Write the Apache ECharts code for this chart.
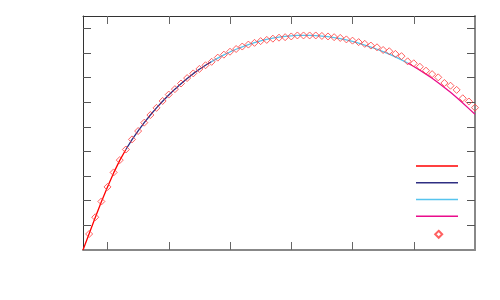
<!DOCTYPE html>
<html>
<head>
<meta charset="utf-8">
<script src="https://cdn.jsdelivr.net/npm/echarts@6/dist/echarts.min.js"></script>
<style>html,body{margin:0;padding:0;background:#fff;}#chart{width:500px;height:300px;}</style>
</head>
<body>
<div id="chart"></div>
<script>
// x positions of the fitted curve samples
var curveX = [0,0.1,0.2,0.3,0.4,0.5,0.6,0.7,0.8,0.9,1.0,1.1,1.2,1.3,1.4,1.5,1.6,1.7,1.8,1.9,2.0,
  2.1,2.2,2.3,2.4,2.5,2.6,2.7,2.8,2.9,3.0,3.1,3.2,3.3,3.4,3.5,3.6,3.7,3.8,3.9,4.0,
  4.1,4.2,4.3,4.4,4.5,4.6,4.7,4.8,4.9,5.0,5.1,5.2,5.3,5.4,5.5,5.6,5.7,5.8,5.9,6.0,6.1,6.2,6.3,6.4];
var curveY = [0,0.66,1.32,1.96,2.56,3.13,3.64,4.08,4.48,4.84,5.17,5.48,5.77,6.04,6.29,6.53,6.75,6.96,7.16,7.34,7.50,
  7.65,7.79,7.92,8.04,8.15,8.25,8.34,8.42,8.49,8.55,8.60,8.64,8.67,8.69,8.71,8.71,8.71,8.70,8.68,8.66,
  8.62,8.58,8.53,8.47,8.40,8.32,8.24,8.15,8.05,7.95,7.84,7.72,7.59,7.45,7.30,7.14,6.97,6.79,6.60,6.40,6.19,5.97,5.74,5.51];
// x ranges covered by each coloured curve piece
var pieceNames = ['fit 1', 'fit 2', 'fit 3', 'fit 4'];
var pieceRanges = [[0, 0.7], [0.7, 2.1], [2.1, 5.3], [5.3, 6.4]];
// measured points
var pointX = [0.1,0.2,0.3,0.4,0.5,0.6,0.7,0.8,0.9,1.0,1.1,1.2,1.3,1.4,1.5,1.6,1.7,1.8,1.9,2.0,
  2.1,2.2,2.3,2.4,2.5,2.6,2.7,2.8,2.9,3.0,3.1,3.2,3.3,3.4,3.5,3.6,3.7,3.8,3.9,4.0,
  4.1,4.2,4.3,4.4,4.5,4.6,4.7,4.8,4.9,5.0,5.1,5.2,5.3,5.4,5.5,5.6,5.7,5.8,5.9,6.0,6.1,6.2,6.3,6.4];
var pointY = [0.65,1.33,1.97,2.56,3.15,3.65,4.08,4.49,4.83,5.17,
  5.48,5.77,6.05,6.31,6.53,6.76,6.98,7.17,7.35,7.50,
  7.64,7.81,7.93,8.05,8.16,8.26,8.34,8.41,8.48,8.53,
  8.58,8.62,8.64,8.67,8.71,8.71,8.71,8.71,8.69,8.67,
  8.64,8.61,8.55,8.50,8.44,8.37,8.30,8.23,8.12,8.07,
  7.96,7.87,7.66,7.58,7.44,7.28,7.14,7.01,6.78,6.67,
  6.50,6.16,6.03,5.78];
var xTicks = [0.4,1.4,2.4,3.4,4.4,5.4];
var yTicks = [1,2,3,4,5,6,7,8,9];
var xMin = 0, xMax = 6.4, yMin = 0, yMax = 9.5;

var colors = ['#ff0000', '#2e2e82', '#56c4ee', '#ea0c8c'];
var markerColor = '#ff3a3a';

var chart = echarts.init(document.getElementById('chart'), null, {renderer: 'canvas'});

function pieceData(r) {
  var d = [];
  for (var i = 0; i < curveX.length; i++) {
    if (curveX[i] >= r[0] - 1e-9 && curveX[i] <= r[1] + 1e-9) d.push([curveX[i], curveY[i]]);
  }
  return d;
}
var series = pieceRanges.map(function (r, k) {
  return {
    name: pieceNames[k], type: 'line', data: pieceData(r),
    symbol: 'none', smooth: false, animation: false,
    lineStyle: {color: colors[k], width: 1.3},
    itemStyle: {color: colors[k]}, z: 2 + k
  };
});
series.push({
  name: 'data', type: 'scatter', symbol: 'diamond', symbolSize: 7, animation: false,
  data: pointX.map(function (x, i) { return [x, pointY[i]]; }),
  itemStyle: {color: 'rgba(255,255,255,0)', borderColor: markerColor, borderWidth: 1},
  z: 10
});

function xAxis(pos, lineColor, lineWidth) {
  return {
    type: 'value', position: pos, min: xMin, max: xMax,
    axisLine: {show: true, onZero: false, lineStyle: {color: lineColor, width: lineWidth}},
    axisTick: {show: true, inside: true, length: 8, customValues: xTicks, lineStyle: {color: '#666', width: 1}},
    axisLabel: {show: false}, splitLine: {show: false}
  };
}
function yAxis(pos, lineColor, lineWidth) {
  return {
    type: 'value', position: pos, min: yMin, max: yMax,
    axisLine: {show: true, onZero: false, lineStyle: {color: lineColor, width: lineWidth}},
    axisTick: {show: true, inside: true, length: 8, customValues: yTicks, lineStyle: {color: '#555', width: 1}},
    axisLabel: {show: false}, splitLine: {show: false}
  };
}

chart.setOption({
  animation: false,
  grid: {left: 83, right: 25, top: 16, bottom: 50, containLabel: false},
  xAxis: [xAxis('bottom', '#888', 2), xAxis('top', '#333', 1)],
  yAxis: [yAxis('left', '#333', 1), yAxis('right', '#888', 2)],
  legend: [
    {
      data: pieceNames.map(function (n) { return {name: n, icon: 'rect'}; }),
      orient: 'vertical', left: 416, top: 165.3, padding: 0,
      itemWidth: 42, itemHeight: 1.5, itemGap: 15.2,
      formatter: function () { return ''; }, textStyle: {fontSize: 1, lineHeight: 1},
      selectedMode: false
    },
    {
      data: ['data'], orient: 'vertical', left: 434.2, top: 229.8, padding: 0,
      itemWidth: 7, itemHeight: 7,
      formatter: function () { return ''; }, textStyle: {fontSize: 1, lineHeight: 1},
      selectedMode: false
    }
  ],
  series: series
});
</script>
</body>
</html>
